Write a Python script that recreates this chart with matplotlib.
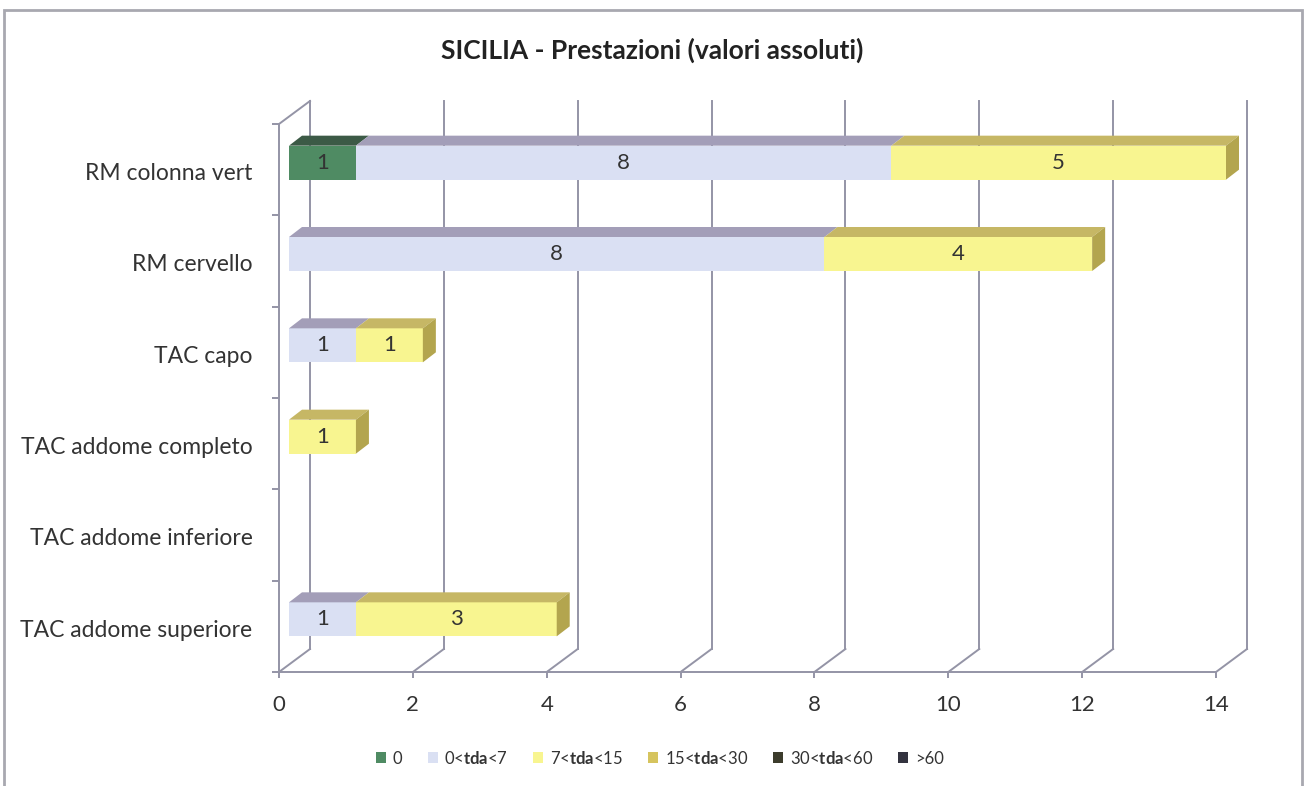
import matplotlib.pyplot as plt
from matplotlib.patches import Polygon, Patch, Rectangle

plt.rcParams["font.family"] = ["Lato", "DejaVu Sans"]
plt.rcParams["mathtext.fontset"] = "custom"
plt.rcParams["mathtext.rm"] = "Lato"
plt.rcParams["mathtext.bf"] = "Lato:bold"

categories = [
    "RM colonna vert",
    "RM cervello",
    "TAC capo",
    "TAC addome completo",
    "TAC addome inferiore",
    "TAC addome superiore",
]
series_names = ["0", "0<$\\mathbf{tda}$<7", "7<$\\mathbf{tda}$<15",
                "15<$\\mathbf{tda}$<30", "30<$\\mathbf{tda}$<60", ">60"]
v_0 = [1, 0, 0, 0, 0, 0]
v_0_7 = [8, 8, 1, 0, 0, 1]
v_7_15 = [5, 4, 1, 1, 0, 3]
v_15_30 = [0, 0, 0, 0, 0, 0]
v_30_60 = [0, 0, 0, 0, 0, 0]
v_60 = [0, 0, 0, 0, 0, 0]
series = [v_0, v_0_7, v_7_15, v_15_30, v_30_60, v_60]
xticks = [0, 2, 4, 6, 8, 10, 12, 14]

front_col = ["#4F8B63", "#DAE0F3", "#F8F590", "#D6C45E", "#3C3C2C", "#33333F"]
top_col = ["#3C5A46", "#A39EB8", "#C6B765", "#A89840", "#2A2A20", "#25252E"]
side_col = ["#355540", "#9A96AE", "#B3A54E", "#9A8A38", "#22221A", "#202028"]
grid_col = "#9494A6"

fig = plt.figure(figsize=(13.04, 7.86), dpi=100)
W, H = 1304, 786
x0, x1, ytop, ybot = 279, 1216, 124, 672
ax = fig.add_axes([x0 / W, (H - ybot) / H, (x1 - x0) / W, (ybot - ytop) / H])
ax.set_xlim(0, 14)
ax.set_ylim(len(categories), 0)
for s in ax.spines.values():
    s.set_visible(False)

# pixel -> data conversions
PX = (x1 - x0) / 14
PY = (ybot - ytop) / len(categories)
bx, by = 10 / PX, -7 / PY      # plane where bars sit
ddx, ddy = 13 / PX, -10 / PY   # bar depth
wx, wy = 31 / PX, -23 / PY     # back wall
bh = 34 / PY
n = len(categories)

# walls / gridlines
for v in xticks:
    ax.plot([v + wx, v + wx], [wy, n + wy], color=grid_col, lw=1.4, zorder=1, clip_on=False)
    ax.plot([v, v + wx], [n, n + wy], color=grid_col, lw=1.4, zorder=1, clip_on=False)
ax.plot([0, 0], [0, n], color=grid_col, lw=1.4, zorder=1, clip_on=False)
ax.plot([0, wx], [0, wy], color=grid_col, lw=1.4, zorder=1, clip_on=False)
ax.plot([0, 14], [n, n], color=grid_col, lw=1.4, zorder=1, clip_on=False)

ax.set_xticks(xticks)
ax.set_xticklabels([str(t) for t in xticks], fontsize=16, color="#333333")
ax.tick_params(axis="x", length=4.5, color=grid_col, width=1.4, pad=12)
ax.set_yticks(range(n + 1))
ax.set_yticklabels([])
ax.tick_params(axis="y", which="major", length=5, color=grid_col, width=1.4)
ax.set_yticks([i + 0.52 for i in range(n)], minor=True)
ax.set_yticklabels(categories, minor=True, fontsize=16.5, color="#333333")
ax.tick_params(axis="y", which="minor", length=0, pad=19)

# stacked 3D-looking bars
for i in range(n):
    yc = i + 0.5 + by
    left = 0
    last = None
    for k, vals in enumerate(series):
        w = vals[i]
        if w <= 0:
            continue
        ax.barh(yc, w, left=left + bx, height=bh, color=front_col[k], zorder=3, clip_on=False)
        xa, xb = left + bx, left + w + bx
        yt = yc - bh / 2
        ax.add_patch(Polygon([(xa, yt), (xb, yt), (xb + ddx, yt + ddy), (xa + ddx, yt + ddy)],
                             closed=True, facecolor=top_col[k], edgecolor="none", zorder=3,
                             clip_on=False))
        ax.text((xa + xb) / 2, yc, str(w), ha="center", va="center", fontsize=16,
                color="#333333", zorder=5)
        last = (xb, k)
        left += w
    if last is not None:
        xb, k = last
        yt, yb = yc - bh / 2, yc + bh / 2
        ax.add_patch(Polygon([(xb, yt), (xb + ddx, yt + ddy), (xb + ddx, yb + ddy), (xb, yb)],
                             closed=True, facecolor=side_col[k], edgecolor="none", zorder=3,
                             clip_on=False))

fig.text(0.5, 1 - 50 / H, "SICILIA - Prestazioni (valori assoluti)", ha="center", va="center",
         fontsize=19, fontweight="bold", color="#222222")

handles = [Patch(facecolor=c, edgecolor="none") for c in front_col]
fig.legend(handles, series_names, loc="center", bbox_to_anchor=(660 / W, 1 - 758 / H),
           ncol=6, frameon=False, fontsize=12, handlelength=0.6, handleheight=0.6,
           handletextpad=0.4, columnspacing=1.5, labelcolor="#333333")

fig.add_artist(Rectangle((4 / W, -0.01), 1298 / W, 1 - 10 / H + 0.01, transform=fig.transFigure,
                         fill=False, edgecolor="#A8A8B0", lw=2))

fig.savefig("out.png", dpi=100)
